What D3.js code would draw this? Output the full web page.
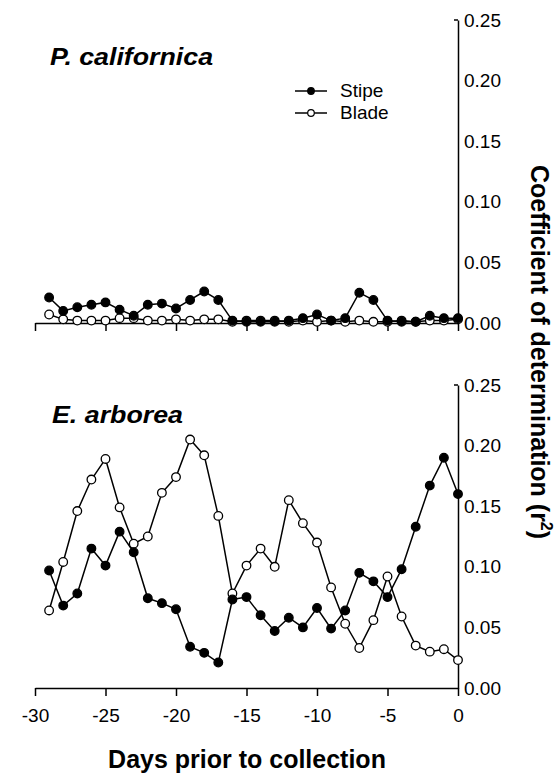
<!DOCTYPE html>
<html><head><meta charset="utf-8">
<script src="https://cdn.jsdelivr.net/npm/d3@7"></script>
<style>
html,body{margin:0;padding:0;background:#fff;}
svg{display:block;font-family:"Liberation Sans",Arial,sans-serif;}
</style></head>
<body>
<svg id="c" width="559" height="775"></svg>
<script>
const days = d3.range(-29, 1);
const xTicks = [-30, -25, -20, -15, -10, -5, 0];
const yTicks = [0, 0.05, 0.10, 0.15, 0.20, 0.25];
const seriesNames = ["Stipe", "Blade"];

// P. californica
const pcStipe = [0.021,0.010,0.013,0.015,0.017,0.011,0.006,0.015,0.016,0.012,0.019,0.026,0.019,0.002,0.001,0.001,0.001,0.002,0.004,0.007,0.002,0.004,0.025,0.019,0.002,0.001,0.001,0.006,0.004,0.004];
const pcBlade = [0.007,0.003,0.002,0.002,0.002,0.004,0.004,0.002,0.002,0.003,0.002,0.003,0.003,0.001,0.002,0.002,0.002,0.001,0.002,0.001,0.002,0.001,0.002,0.001,0.001,0.002,0.001,0.002,0.002,0.003];
// E. arborea
const eaStipe = [0.097,0.068,0.078,0.115,0.101,0.129,0.112,0.074,0.070,0.065,0.034,0.029,0.021,0.073,0.075,0.060,0.047,0.058,0.050,0.066,0.049,0.064,0.095,0.088,0.075,0.098,0.133,0.167,0.190,0.160];
const eaBlade = [0.064,0.104,0.146,0.172,0.189,0.149,0.119,0.125,0.161,0.174,0.205,0.192,0.142,0.078,0.101,0.115,0.100,0.155,0.136,0.120,0.083,0.053,0.033,0.056,0.092,0.059,0.035,0.030,0.032,0.023];

const svg = d3.select("#c");
const x = d3.scaleLinear().domain([-30, 0]).range([35, 458]);

const panels = [
  {name: "P. californica", stipe: pcStipe, blade: pcBlade, y0: 323, y1: 20, lx: 50, ly: 65, lw: 163},
  {name: "E. arborea", stipe: eaStipe, blade: eaBlade, y0: 688, y1: 385, lx: 52, ly: 423, lw: 131}
];

panels.forEach((p, pi) => {
  const y = d3.scaleLinear().domain([0, 0.25]).range([p.y0, p.y1]);
  const g = svg.append("g");

  // x axis
  const xa = g.append("g").attr("transform", `translate(0,${p.y0})`)
    .call(d3.axisBottom(x).tickValues(xTicks).tickSize(8).tickSizeOuter(0)
      .tickFormat(pi === 1 ? d3.format("d") : ""));
  xa.select(".domain").attr("stroke-width", 1.5);
  xa.selectAll(".tick line").attr("stroke-width", 1.5);
  xa.selectAll(".tick text").attr("font-size", 19).attr("font-family", "Liberation Sans, Arial, sans-serif")
    .attr("fill", "#000").attr("dy", "1.2em")
    .text(d => pi === 1 ? (d < 0 ? "-" + Math.abs(d) : d) : "");

  // y axis (right)
  const ya = g.append("g").attr("transform", `translate(${x(0)},0)`)
    .call(d3.axisRight(y).tickValues(yTicks).tickSize(0).tickPadding(6).tickFormat(d3.format(".2f")));
  ya.select(".domain").attr("stroke-width", 1.5);
  ya.selectAll(".tick text").attr("font-size", 19).attr("font-family", "Liberation Sans, Arial, sans-serif").attr("fill", "#000");
  g.append("line").attr("x1", x(0) - 4).attr("x2", x(0)).attr("y1", y(0.25)).attr("y2", y(0.25))
    .attr("stroke", "#000").attr("stroke-width", 1.5);

  const line = d3.line().x((d, i) => x(days[i])).y(d => y(d));
  [["blade", p.blade], ["stipe", p.stipe]].forEach(([k, arr]) => {
    g.append("path").datum(arr).attr("d", line).attr("fill", "none").attr("stroke", "#000").attr("stroke-width", 1.5);
  });
  [["blade", p.blade, "#fff"], ["stipe", p.stipe, "#000"]].forEach(([k, arr, fill]) => {
    g.selectAll("circle." + k).data(arr).join("circle").attr("class", k)
      .attr("cx", (d, i) => x(days[i])).attr("cy", d => y(d)).attr("r", 4.3)
      .attr("fill", fill).attr("stroke", "#000").attr("stroke-width", 1.3);
  });

  g.append("text").attr("x", p.lx).attr("y", p.ly).text(p.name)
    .attr("font-size", 23).attr("font-weight", "bold").attr("font-style", "italic")
    .attr("textLength", p.lw).attr("lengthAdjust", "spacingAndGlyphs");
});

// legend
const leg = svg.append("g");
seriesNames.forEach((s, i) => {
  const ly = 91 + i * 22;
  leg.append("line").attr("x1", 295).attr("x2", 327).attr("y1", ly).attr("y2", ly).attr("stroke", "#000").attr("stroke-width", 1.5);
  leg.append("circle").attr("cx", 311).attr("cy", ly).attr("r", 3.3)
    .attr("fill", i === 0 ? "#000" : "#fff").attr("stroke", "#000").attr("stroke-width", 1.2);
  leg.append("text").attr("x", 340).attr("y", ly + 6).text(s).attr("font-size", 19);
});

// axis titles
svg.append("text").attr("x", 247).attr("y", 768).attr("text-anchor", "middle")
  .attr("font-size", 25).attr("font-weight", "bold").text("Days prior to collection");

const yt = svg.append("text").attr("transform", "translate(531,352) rotate(90)")
  .attr("text-anchor", "middle").attr("font-size", 25).attr("font-weight", "bold");
yt.append("tspan").text("Coefficient of determination (r");
yt.append("tspan").text("2").attr("font-size", 16).attr("dy", -10);
yt.append("tspan").text(")").attr("dy", 10);
</script>
</body></html>
